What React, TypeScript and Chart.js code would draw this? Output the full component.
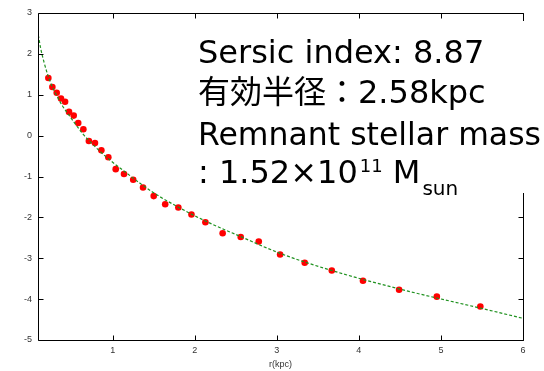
import React, { useEffect, useRef } from 'react';
import { Chart, registerables } from 'chart.js';

Chart.register(...registerables);

// Observed profile (red dots)
const radiusKpc = [
  0.216, 0.265, 0.318, 0.37, 0.42, 0.468, 0.525, 0.58, 0.643, 0.71, 0.784, 0.862, 0.947,
  1.037, 1.138, 1.25, 1.37, 1.5, 1.64, 1.8, 1.96, 2.13, 2.34, 2.56, 2.78, 3.04, 3.34, 3.67,
  4.05, 4.49, 4.95, 5.48,
];
const profileValues = [
  1.41, 1.19, 1.05, 0.91, 0.83, 0.58, 0.49, 0.31, 0.155, -0.13, -0.18, -0.36, -0.53,
  -0.82, -0.94, -1.08, -1.27, -1.48, -1.68, -1.76, -1.93, -2.12, -2.39, -2.48, -2.59, -2.91, -3.11, -3.3,
  -3.55, -3.77, -3.94, -4.18,
];

// Sersic fit (green dashed curve)
const fitRadius = [
  0.094, 0.123, 0.163, 0.21, 0.265, 0.326, 0.387, 0.468, 0.55, 0.65, 0.75, 0.854, 0.955,
  1.14, 1.33, 1.5, 1.8, 2.13, 2.56, 3.04, 3.67, 4.49, 5.48, 6.0,
];
const fitValues = [
  2.46, 2.13, 1.8, 1.48, 1.19, 0.95, 0.73, 0.5, 0.27, 0.01, -0.2, -0.4, -0.58,
  -0.87, -1.16, -1.4, -1.75, -2.09, -2.47, -2.88, -3.3, -3.75, -4.22, -4.47,
];

const xTicks = [1, 2, 3, 4, 5, 6];
const yTicks = [-5, -4, -3, -2, -1, 0, 1, 2, 3];
const xTitle = 'r(kpc)';

const line1 = 'Sersic index: 8.87';
const line2 = '有効半径：2.58kpc';
const line3 = 'Remnant stellar mass';
const line4Main = ': 1.52×10';
const line4Sup = '11';
const line4Mid = ' M';
const line4Sub = 'sun';

const FONT_FAMILY = "'DejaVu Sans', 'Noto Sans CJK JP', sans-serif";

const framePlugin = {
  id: 'frameAndText',
  afterDraw(chart: any) {
    const ctx = chart.ctx as CanvasRenderingContext2D;
    const { left, right, top, bottom } = chart.chartArea;
    const xs = chart.scales.x;
    const ys = chart.scales.y;
    const L = Math.round(left) + 0.5;
    const R = Math.round(right) + 0.5;
    const T = Math.round(top) + 0.5;
    const B = Math.round(bottom) + 0.5;
    const tl = 5;
    ctx.save();
    ctx.strokeStyle = '#000';
    ctx.lineWidth = 1;
    ctx.beginPath();
    ctx.rect(L, T, R - L, B - T);
    xTicks.forEach((v) => {
      const px = Math.round(xs.getPixelForValue(v)) + 0.5;
      ctx.moveTo(px, B);
      ctx.lineTo(px, B - tl);
      ctx.moveTo(px, T);
      ctx.lineTo(px, T + tl);
    });
    yTicks.forEach((v) => {
      const py = Math.round(ys.getPixelForValue(v)) + 0.5;
      ctx.moveTo(L, py);
      ctx.lineTo(L + tl, py);
      ctx.moveTo(R, py);
      ctx.lineTo(R - tl, py);
    });
    ctx.stroke();

    // white text box
    ctx.fillStyle = '#fff';
    ctx.fillRect(193, 21, 544 - 193, 172);

    // annotation text
    const x0 = 198;
    ctx.fillStyle = '#000';
    ctx.textBaseline = 'alphabetic';
    ctx.textAlign = 'left';
    const drawSeg = (text: string, x: number, y: number, size: number, maxW?: number) => {
      ctx.font = `${size}px ${FONT_FAMILY}`;
      const w = ctx.measureText(text).width;
      if (maxW && w > maxW) {
        ctx.fillText(text, x, y, maxW);
        return x + maxW;
      }
      ctx.fillText(text, x, y);
      return x + w;
    };
    drawSeg(line1, x0, 63, 32);
    drawSeg(line2, x0, 103, 32);
    drawSeg(line3, x0, 145, 32, 343);
    let cx = drawSeg(line4Main, x0, 183, 32);
    cx = drawSeg(line4Sup, cx + 2, 172, 18);
    cx = drawSeg(line4Mid, cx, 183, 32);
    drawSeg(line4Sub, cx + 2, 195, 20);
    ctx.restore();
  },
};

export default function App() {
  const canvasRef = useRef<HTMLCanvasElement | null>(null);

  useEffect(() => {
    document.body.style.margin = '0';
    const canvas = canvasRef.current;
    if (!canvas) return;
    const tickFont = { family: "'Liberation Sans', Arial, sans-serif", size: 9 };
    const chart = new Chart(canvas, {
      type: 'scatter',
      data: {
        datasets: [
          {
            type: 'scatter',
            data: radiusKpc.map((x, i) => ({ x, y: profileValues[i] })),
            backgroundColor: '#ff0000',
            borderWidth: 0,
            pointRadius: 3.3,
            order: 2,
          } as any,
          {
            type: 'line',
            data: fitRadius.map((x, i) => ({ x, y: fitValues[i] })),
            borderColor: '#1f911f',
            borderWidth: 1.2,
            borderDash: [3, 2],
            pointRadius: 0,
            fill: false,
            cubicInterpolationMode: 'monotone',
            order: 1,
          } as any,
        ],
      },
      options: {
        responsive: false,
        animation: false,
        devicePixelRatio: 1,
        layout: { padding: { top: 13, right: 21, left: 0, bottom: 0 } },
        plugins: {
          legend: { display: false },
          tooltip: { enabled: false },
        },
        scales: {
          x: {
            type: 'linear',
            min: 0.09,
            max: 6,
            afterBuildTicks: (scale: any) => {
              scale.ticks = xTicks.map((v) => ({ value: v }));
            },
            afterFit: (scale: any) => {
              scale.height = 31;
            },
            grid: { display: false, drawTicks: false },
            border: { display: false },
            ticks: {
              font: tickFont,
              color: '#333',
              padding: 5,
              maxRotation: 0,
              autoSkip: false,
              callback: (v: any) => String(v),
            },
            title: {
              display: true,
              text: xTitle,
              font: tickFont,
              color: '#333',
              padding: { top: 0, bottom: 1 },
            },
          },
          y: {
            type: 'linear',
            min: -5,
            max: 3,
            afterBuildTicks: (scale: any) => {
              scale.ticks = yTicks.map((v) => ({ value: v }));
            },
            afterFit: (scale: any) => {
              scale.width = 38;
            },
            grid: { display: false, drawTicks: false },
            border: { display: false },
            ticks: {
              font: tickFont,
              color: '#333',
              padding: 6,
              autoSkip: false,
              callback: (v: any) => String(v),
            },
          },
        },
      },
      plugins: [framePlugin],
    } as any);
    return () => chart.destroy();
  }, []);

  return (
    <div style={{ position: 'absolute', left: 0, top: 0, width: 544, height: 371, background: '#fff' }}>
      <canvas ref={canvasRef} width={544} height={371} style={{ display: 'block' }} />
    </div>
  );
}
